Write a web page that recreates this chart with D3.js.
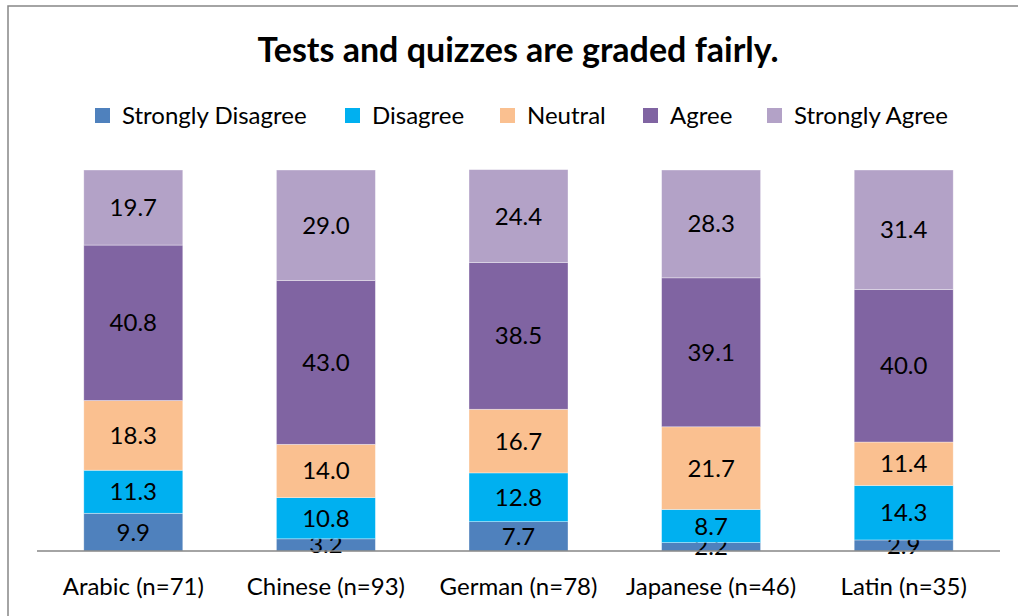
<!DOCTYPE html>
<html>
<head>
<meta charset="utf-8">
<script src="https://cdn.jsdelivr.net/npm/d3@7"></script>
<style>
body{margin:0;background:#fff;}
svg text{font-family:Lato,"Open Sans",sans-serif;fill:#000;}
</style>
</head>
<body>
<svg id="chart"></svg>
<script>
// data (percent)
const categories=['Arabic (n=71)','Chinese (n=93)','German (n=78)','Japanese (n=46)','Latin (n=35)'];
const seriesNames=['Strongly Disagree','Disagree','Neutral','Agree','Strongly Agree'];
const stronglyDisagree=[9.9,3.2,7.7,2.2,2.9];
const disagree=[11.3,10.8,12.8,8.7,14.3];
const neutral=[18.3,14.0,16.7,21.7,11.4];
const agree=[40.8,43.0,38.5,39.1,40.0];
const stronglyAgree=[19.7,29.0,24.4,28.3,31.4];
const colors=['#4f81bd','#00b0f0','#fac090','#8064a2','#b3a2c7'];

const W=1018,H=616;
const svg=d3.select('#chart').attr('width',W).attr('height',H);

// outer frame
svg.append('rect').attr('x',8).attr('y',6).attr('width',W+10).attr('height',H+10)
	.attr('fill','none').attr('stroke','#868686').attr('stroke-width',1.5);

const plotLeft=37,plotRight=1000,plotTop=170,plotBottom=551;

const table=categories.map((c,i)=>({cat:c,
	'Strongly Disagree':stronglyDisagree[i],'Disagree':disagree[i],'Neutral':neutral[i],
	'Agree':agree[i],'Strongly Agree':stronglyAgree[i]}));
const stack=d3.stack().keys(seriesNames)(table);

const x=d3.scaleBand().domain(categories).range([plotLeft,plotRight]).paddingInner(0.486).paddingOuter(0.243);
const y=d3.scaleLinear().domain([0,100]).range([plotBottom,plotTop]);

const groups=svg.selectAll('g.series').data(stack).enter().append('g')
	.attr('class','series').attr('fill',(d,i)=>colors[i]);

groups.selectAll('rect').data(d=>d).enter().append('rect')
	.attr('x',d=>x(d.data.cat))
	.attr('y',d=>y(d[1]))
	.attr('width',x.bandwidth())
	.attr('height',d=>y(d[0])-y(d[1]))
	.attr('stroke','#fff').attr('stroke-opacity',0.5).attr('stroke-width',0.7);

// x axis line
svg.append('line').attr('x1',plotLeft).attr('x2',plotRight).attr('y1',plotBottom).attr('y2',plotBottom)
	.attr('stroke','#868686').attr('stroke-width',1.5);

// value labels
groups.selectAll('text').data(d=>d).enter().append('text')
	.attr('x',d=>x(d.data.cat)+x.bandwidth()/2)
	.attr('y',d=>(y(d[0])+y(d[1]))/2+8.5)
	.attr('text-anchor','middle').style('font-size','24px')
	.style('fill','#000')
	.text(d=>(d[1]-d[0]).toFixed(1));

// category labels
const xAxis=d3.axisBottom(x).tickSize(0).tickPadding(0);
const ax=svg.append('g').attr('transform','translate(0,'+plotBottom+')').call(xAxis);
ax.select('.domain').remove();
ax.selectAll('text').attr('dy',0).attr('y',44).style('font-size','24px').attr('font-family',null);

// title
svg.append('text').attr('x',518).attr('y',62).attr('text-anchor','middle')
	.style('font-size','34px').style('font-weight','bold')
	.text('Tests and quizzes are graded fairly.');

// legend
const legendX=[95,345,500,643,767];
const leg=svg.selectAll('g.leg').data(seriesNames).enter().append('g')
	.attr('class','leg').attr('transform',(d,i)=>'translate('+legendX[i]+',108)');
leg.append('rect').attr('width',15).attr('height',15).attr('fill',(d,i)=>colors[i]);
leg.append('text').attr('x',27).attr('y',16).style('font-size','24px').text(d=>d);
</script>
</body>
</html>
